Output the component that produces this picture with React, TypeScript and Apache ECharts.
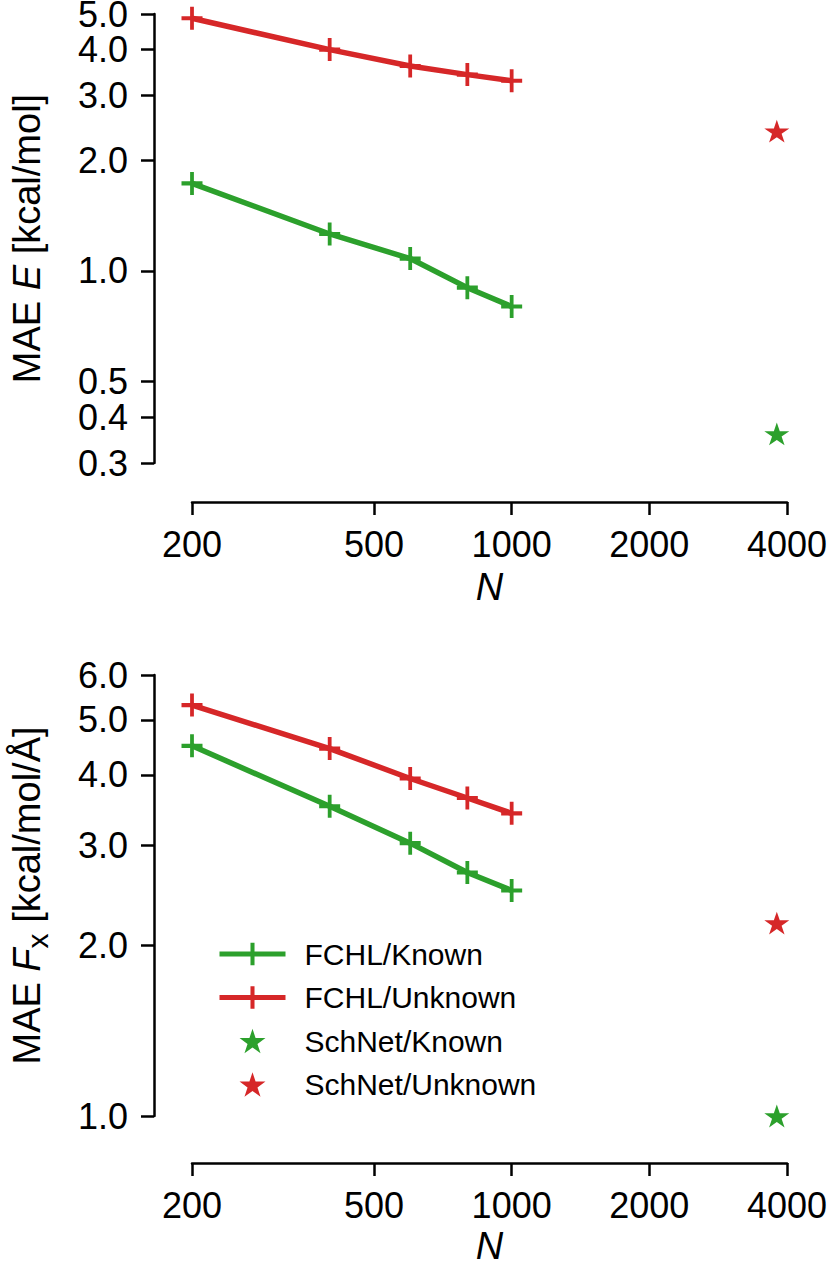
import React, { useEffect, useRef } from "react";
import * as echarts from "echarts";

// ---- data ----
const N_FCHL = [200, 400, 600, 800, 1000];
const N_SCHNET = [3800];

const E_FCHL_KNOWN = [1.73, 1.26, 1.08, 0.9, 0.8];
const E_FCHL_UNKNOWN = [4.87, 4.0, 3.61, 3.42, 3.29];
const E_SCHNET_KNOWN = [0.36];
const E_SCHNET_UNKNOWN = [2.4];

const F_FCHL_KNOWN = [4.5, 3.52, 3.03, 2.69, 2.5];
const F_FCHL_UNKNOWN = [5.31, 4.45, 3.94, 3.64, 3.42];
const F_SCHNET_KNOWN = [1.0];
const F_SCHNET_UNKNOWN = [2.19];

const X_TICKS = [200, 500, 1000, 2000, 4000];
const E_TICKS = [0.3, 0.4, 0.5, 1.0, 2.0, 3.0, 4.0, 5.0];
const F_TICKS = [1.0, 2.0, 3.0, 4.0, 5.0, 6.0];

const NAMES = ["FCHL/Known", "FCHL/Unknown", "SchNet/Known", "SchNet/Unknown"];

// ---- styles ----
const GREEN = "#2ca02c";
const RED = "#d62728";
const FONT = "'Liberation Sans', Arial, Helvetica, sans-serif";
const PLUS =
  "path://M-0.18,-1H0.18V-0.18H1V0.18H0.18V1H-0.18V0.18H-1V-0.18H-0.18Z";
const STAR_PTS =
  "M0,-1L0.2245,-0.309L0.951,-0.309L0.363,0.118L0.588,0.809L0,0.382L-0.588,0.809L-0.363,0.118L-0.951,-0.309L-0.2245,-0.309Z";
const STAR = "path://" + STAR_PTS;
// same star with invisible padding so it fits the legend row at the plot's size
const STAR_LEGEND = "path://M0,-1.12M0,0.93" + STAR_PTS;

const pairs = (xs: number[], ys: number[]) => xs.map((x, i) => [x, ys[i]]);

const axisLine = { show: true, lineStyle: { color: "#000", width: 2.5 } };

function xAxis(gridIndex: number, offset: number, nameGap: number) {
  return {
    type: "log",
    gridIndex,
    position: "bottom",
    min: 200,
    max: 4000,
    offset,
    axisLine,
    axisTick: {
      show: true,
      length: 13,
      customValues: X_TICKS,
      lineStyle: { color: "#000", width: 2.5 },
    },
    minorTick: { show: false },
    splitLine: { show: false },
    axisLabel: {
      customValues: X_TICKS,
      formatter: (v: number) => String(Math.round(v)),
      fontSize: 36,
      lineHeight: 30,
      fontFamily: FONT,
      color: "#000",
      margin: 27,
      showMinLabel: true,
      showMaxLabel: true,
    },
    name: "N",
    nameLocation: "middle",
    nameGap,
    nameTextStyle: {
      fontSize: 38,
      lineHeight: 30,
      fontStyle: "italic",
      fontFamily: FONT,
      color: "#000",
    },
  };
}

// ticks + labels of one y axis; the top tick gets its own overlay axis so that
// the automatic min/max-label overlap rule does not drop a neighbouring label
function yAxis(
  gridIndex: number,
  min: number,
  max: number,
  ticks: number[],
  name: string,
  overlay: boolean
) {
  return {
    type: "log",
    gridIndex,
    position: "left",
    min,
    max,
    offset: 38,
    axisLine: overlay ? { show: false } : axisLine,
    axisTick: {
      show: true,
      length: 13,
      customValues: ticks,
      lineStyle: { color: "#000", width: 2.5 },
    },
    minorTick: { show: false },
    splitLine: { show: false },
    axisLabel: {
      customValues: ticks,
      formatter: (v: number) => v.toFixed(1),
      fontSize: 36,
      lineHeight: 26,
      fontFamily: FONT,
      color: "#000",
      margin: 26,
      showMinLabel: true,
      showMaxLabel: true,
    },
    name: overlay ? "" : name,
    nameLocation: "middle",
    nameGap: 102,
    nameTextStyle: {
      rich: {
        a: { fontSize: 38, fontFamily: FONT, color: "#000", padding: [0, 0, 6, 0], verticalAlign: "bottom" },
        i: { fontSize: 38, fontFamily: FONT, color: "#000", fontStyle: "italic", padding: [0, 0, 6, 0], verticalAlign: "bottom" },
        s: { fontSize: 30, fontFamily: FONT, color: "#000", verticalAlign: "bottom" },
      },
    },
  };
}

function lineSeries(name: string, idx: number, ys: number[], color: string) {
  return {
    type: "line",
    name,
    xAxisIndex: idx,
    yAxisIndex: idx,
    data: pairs(N_FCHL, ys),
    symbol: PLUS,
    symbolSize: [21, 23],
    showSymbol: true,
    lineStyle: { color, width: 5.5 },
    itemStyle: { color },
    z: 3,
  };
}

function starSeries(name: string, idx: number, ys: number[], color: string) {
  return {
    type: "scatter",
    name,
    xAxisIndex: idx,
    yAxisIndex: idx,
    data: pairs(N_SCHNET, ys),
    symbol: STAR,
    symbolSize: [25, 24],
    symbolKeepAspect: true,
    itemStyle: { color, opacity: 1 },
    z: 4,
  };
}

export default function App() {
  const ref = useRef<HTMLDivElement>(null);
  useEffect(() => {
    if (!ref.current) return;
    const chart = echarts.init(ref.current, undefined, { renderer: "svg" });
    const E_NAME = "{a|MAE }{i|E}{a| [kcal/mol]}";
    const F_NAME = "{a|MAE }{i|F}{s|x}{a| [kcal/mol/Å]}";
    chart.setOption({
      animation: false,
      backgroundColor: "#fff",
      textStyle: { fontFamily: FONT },
      grid: [
        { left: 192, top: 14, width: 595, height: 449, containLabel: false, outerBoundsMode: "none" },
        { left: 192, top: 675, width: 595, height: 441, containLabel: false, outerBoundsMode: "none" },
      ],
      xAxis: [xAxis(0, 39, 70), xAxis(1, 47, 68)],
      yAxis: [
        yAxis(0, 0.3, 5.0, E_TICKS.slice(0, -1), E_NAME, false),
        yAxis(1, 1.0, 6.0, F_TICKS.slice(0, -1), F_NAME, false),
        yAxis(0, 0.3, 5.0, E_TICKS.slice(-1), E_NAME, true),
        yAxis(1, 1.0, 6.0, F_TICKS.slice(-1), F_NAME, true),
      ],
      legend: {
        orient: "vertical",
        left: 217,
        top: 939,
        padding: 0,
        itemWidth: 66,
        itemHeight: 28,
        itemGap: 13.5,
        lineStyle: { width: 5 },
        data: [
          { name: NAMES[0] },
          { name: NAMES[1] },
          { name: NAMES[2], icon: STAR_LEGEND },
          { name: NAMES[3], icon: STAR_LEGEND },
        ],
        textStyle: {
          fontSize: 30,
          lineHeight: 28,
          fontFamily: FONT,
          color: "#000",
          padding: [0, 0, 0, 14],
        },
      },
      series: [
        lineSeries(NAMES[0], 0, E_FCHL_KNOWN, GREEN),
        lineSeries(NAMES[1], 0, E_FCHL_UNKNOWN, RED),
        starSeries(NAMES[2], 0, E_SCHNET_KNOWN, GREEN),
        starSeries(NAMES[3], 0, E_SCHNET_UNKNOWN, RED),
        lineSeries(NAMES[0], 1, F_FCHL_KNOWN, GREEN),
        lineSeries(NAMES[1], 1, F_FCHL_UNKNOWN, RED),
        starSeries(NAMES[2], 1, F_SCHNET_KNOWN, GREEN),
        starSeries(NAMES[3], 1, F_SCHNET_UNKNOWN, RED),
      ],
    });
    return () => chart.dispose();
  }, []);
  return (
    <div
      ref={ref}
      style={{ position: "absolute", left: 0, top: 0, width: 830, height: 1266 }}
    />
  );
}
